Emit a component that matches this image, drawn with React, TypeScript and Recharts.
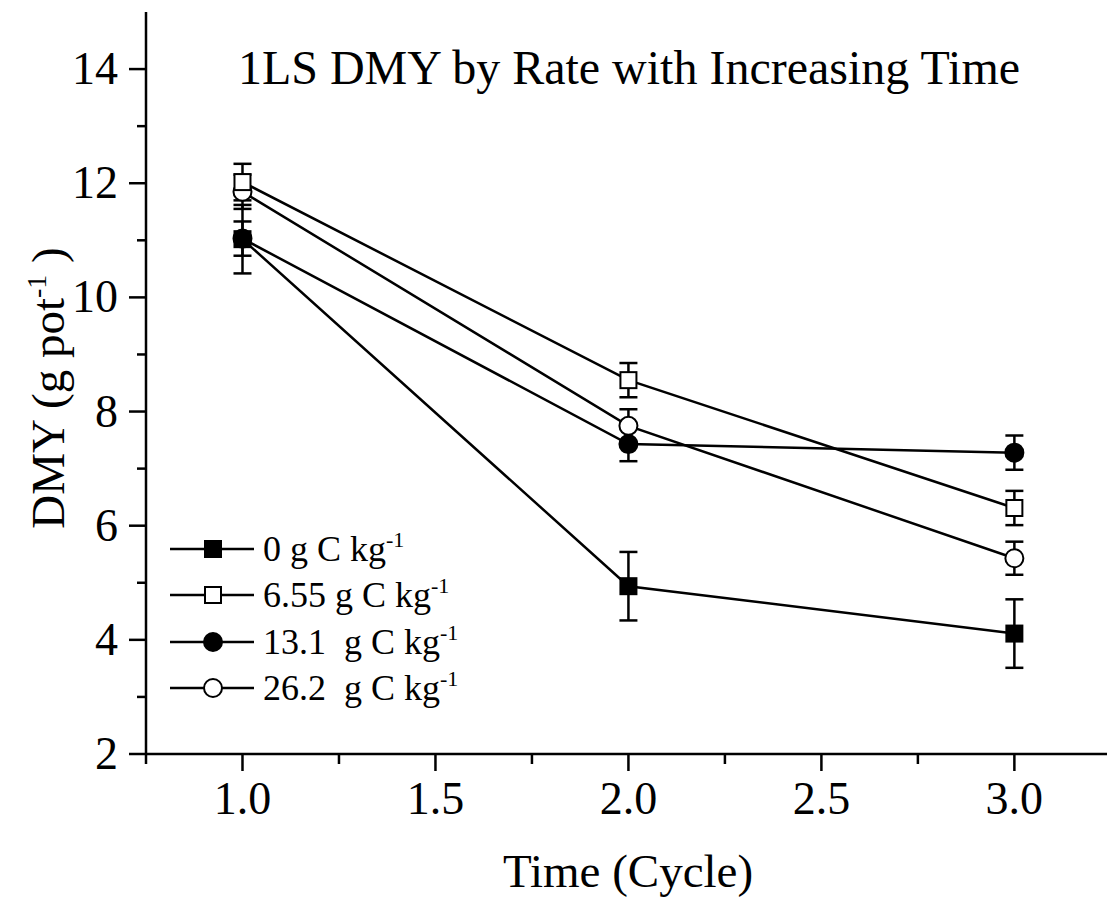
import { LineChart, Line, XAxis, YAxis, ErrorBar, Customized } from "recharts";

const FONT = '"Liberation Serif", "Times New Roman", serif';

// cycles on the x axis
const cycles = [1, 2, 3];

// DMY (g pot-1) per rate, with error bars
const rate0 = [11.02, 4.94, 4.11];
const err0 = [0.6, 0.6, 0.6];
const rate655 = [12.02, 8.55, 6.31];
const err655 = [0.32, 0.3, 0.3];
const rate131 = [11.03, 7.43, 7.28];
const err131 = [0.3, 0.3, 0.3];
const rate262 = [11.85, 7.75, 5.43];
const err262 = [0.3, 0.29, 0.29];

const seriesNames = ["0 g C kg", "6.55 g C kg", "13.1  g C kg", "26.2  g C kg"];
const seriesKeys = ["r0", "r655", "r131", "r262"];
const seriesShapes = ["square", "square", "circle", "circle"];
const seriesFilled = [true, false, true, false];

const xTicks = [0.75, 1, 1.25, 1.5, 1.75, 2, 2.25, 2.5, 2.75, 3];
const yTicks = [2, 3, 4, 5, 6, 7, 8, 9, 10, 11, 12, 13, 14];

const data = cycles.map((t, i) => ({
  t,
  r0: rate0[i],
  e0: err0[i],
  r655: rate655[i],
  e655: err655[i],
  r131: rate131[i],
  e131: err131[i],
  r262: rate262[i],
  e262: err262[i],
}));

function Marker({ cx, cy, shape, filled }: any) {
  const fill = filled ? "#000" : "#fff";
  if (shape === "square") {
    return <rect x={cx - 8} y={cy - 8} width={16} height={16} fill={fill} stroke="#000" strokeWidth={2} />;
  }
  return <circle cx={cx} cy={cy} r={9} fill={fill} stroke="#000" strokeWidth={2} />;
}

function XTick({ x, y, payload }: any) {
  const major = Math.abs((payload.value * 2) % 1) < 1e-6;
  return (
    <g>
      <line x1={x} y1={y} x2={x} y2={y + (major ? 17 : 10)} stroke="#000" strokeWidth={2.5} />
      {major && (
        <text x={x} y={y + 60} textAnchor="middle" fontSize={46} fontFamily={FONT} fill="#000">
          {payload.value.toFixed(1)}
        </text>
      )}
    </g>
  );
}

function YTick({ x, y, payload }: any) {
  const major = payload.value % 2 === 0;
  return (
    <g>
      <line x1={x} y1={y} x2={x - (major ? 17 : 9)} y2={y} stroke="#000" strokeWidth={2.5} />
      {major && (
        <text x={x - 28} y={y + 15} textAnchor="end" fontSize={46} fontFamily={FONT} fill="#000">
          {payload.value}
        </text>
      )}
    </g>
  );
}

function Labels() {
  return (
    <g fontFamily={FONT} fill="#000">
      <text x={629} y={84} textAnchor="middle" fontSize={48}>
        1LS DMY by Rate with Increasing Time
      </text>
      <text x={628} y={887} textAnchor="middle" fontSize={47}>
        Time (Cycle)
      </text>
      <text transform="translate(64,388) rotate(-90)" textAnchor="middle" fontSize={47}>
        DMY (g pot
        <tspan dy={-18} fontSize={28}>-1</tspan>
        <tspan dy={18}> )</tspan>
      </text>
    </g>
  );
}

function LegendBox() {
  return (
    <div style={{ position: "absolute", left: 170, top: 526, fontFamily: FONT }}>
      {seriesNames.map((name, i) => (
        <div key={i} style={{ display: "flex", alignItems: "center", height: 46.3 }}>
          <svg width={84} height={30}>
            <line x1={0} y1={15} x2={84} y2={15} stroke="#000" strokeWidth={2.5} />
            <Marker cx={43} cy={15} shape={seriesShapes[i]} filled={seriesFilled[i]} />
          </svg>
          <span style={{ marginLeft: 9, fontSize: 36, whiteSpace: "pre", lineHeight: 1 }}>
            {name}
            <span style={{ fontSize: 22, position: "relative", top: -14 }}>-1</span>
          </span>
        </div>
      ))}
    </div>
  );
}

// draw order so the error bars cross the open symbols like the original
const drawOrder = [0, 3, 1, 2];
const errKeys = ["e0", "e655", "e131", "e262"];

export default function App() {
  return (
    <div style={{ position: "absolute", left: 0, top: 0, width: 1107, height: 903, background: "#fff" }}>
      <LineChart width={1107} height={903} data={data} margin={{ top: 12, right: 0, bottom: 0, left: 0 }}>
        <XAxis
          type="number"
          dataKey="t"
          domain={[0.75, 3.24]}
          ticks={xTicks}
          interval={0}
          allowDataOverflow
          height={149}
          tickSize={0}
          tickMargin={0}
          tickLine={false}
          axisLine={{ stroke: "#000", strokeWidth: 2.5 }}
          tick={<XTick />}
        />
        <YAxis
          type="number"
          domain={[2, 15]}
          ticks={yTicks}
          interval={0}
          allowDataOverflow
          width={146}
          tickSize={0}
          tickMargin={0}
          tickLine={false}
          axisLine={{ stroke: "#000", strokeWidth: 2.5 }}
          tick={<YTick />}
        />
        {drawOrder.map((i) => (
          <Line
            key={seriesKeys[i]}
            dataKey={seriesKeys[i]}
            stroke="#000"
            strokeWidth={2.5}
            isAnimationActive={false}
            dot={(p: any) => (
              <Marker key={`${seriesKeys[i]}-${p.index}`} cx={p.cx} cy={p.cy} shape={seriesShapes[i]} filled={seriesFilled[i]} />
            )}
            activeDot={false}
          >
            <ErrorBar dataKey={errKeys[i]} width={9} stroke="#000" strokeWidth={2.5} direction="y" isAnimationActive={false} />
          </Line>
        ))}
        <Customized component={Labels} />
      </LineChart>
      <LegendBox />
    </div>
  );
}
